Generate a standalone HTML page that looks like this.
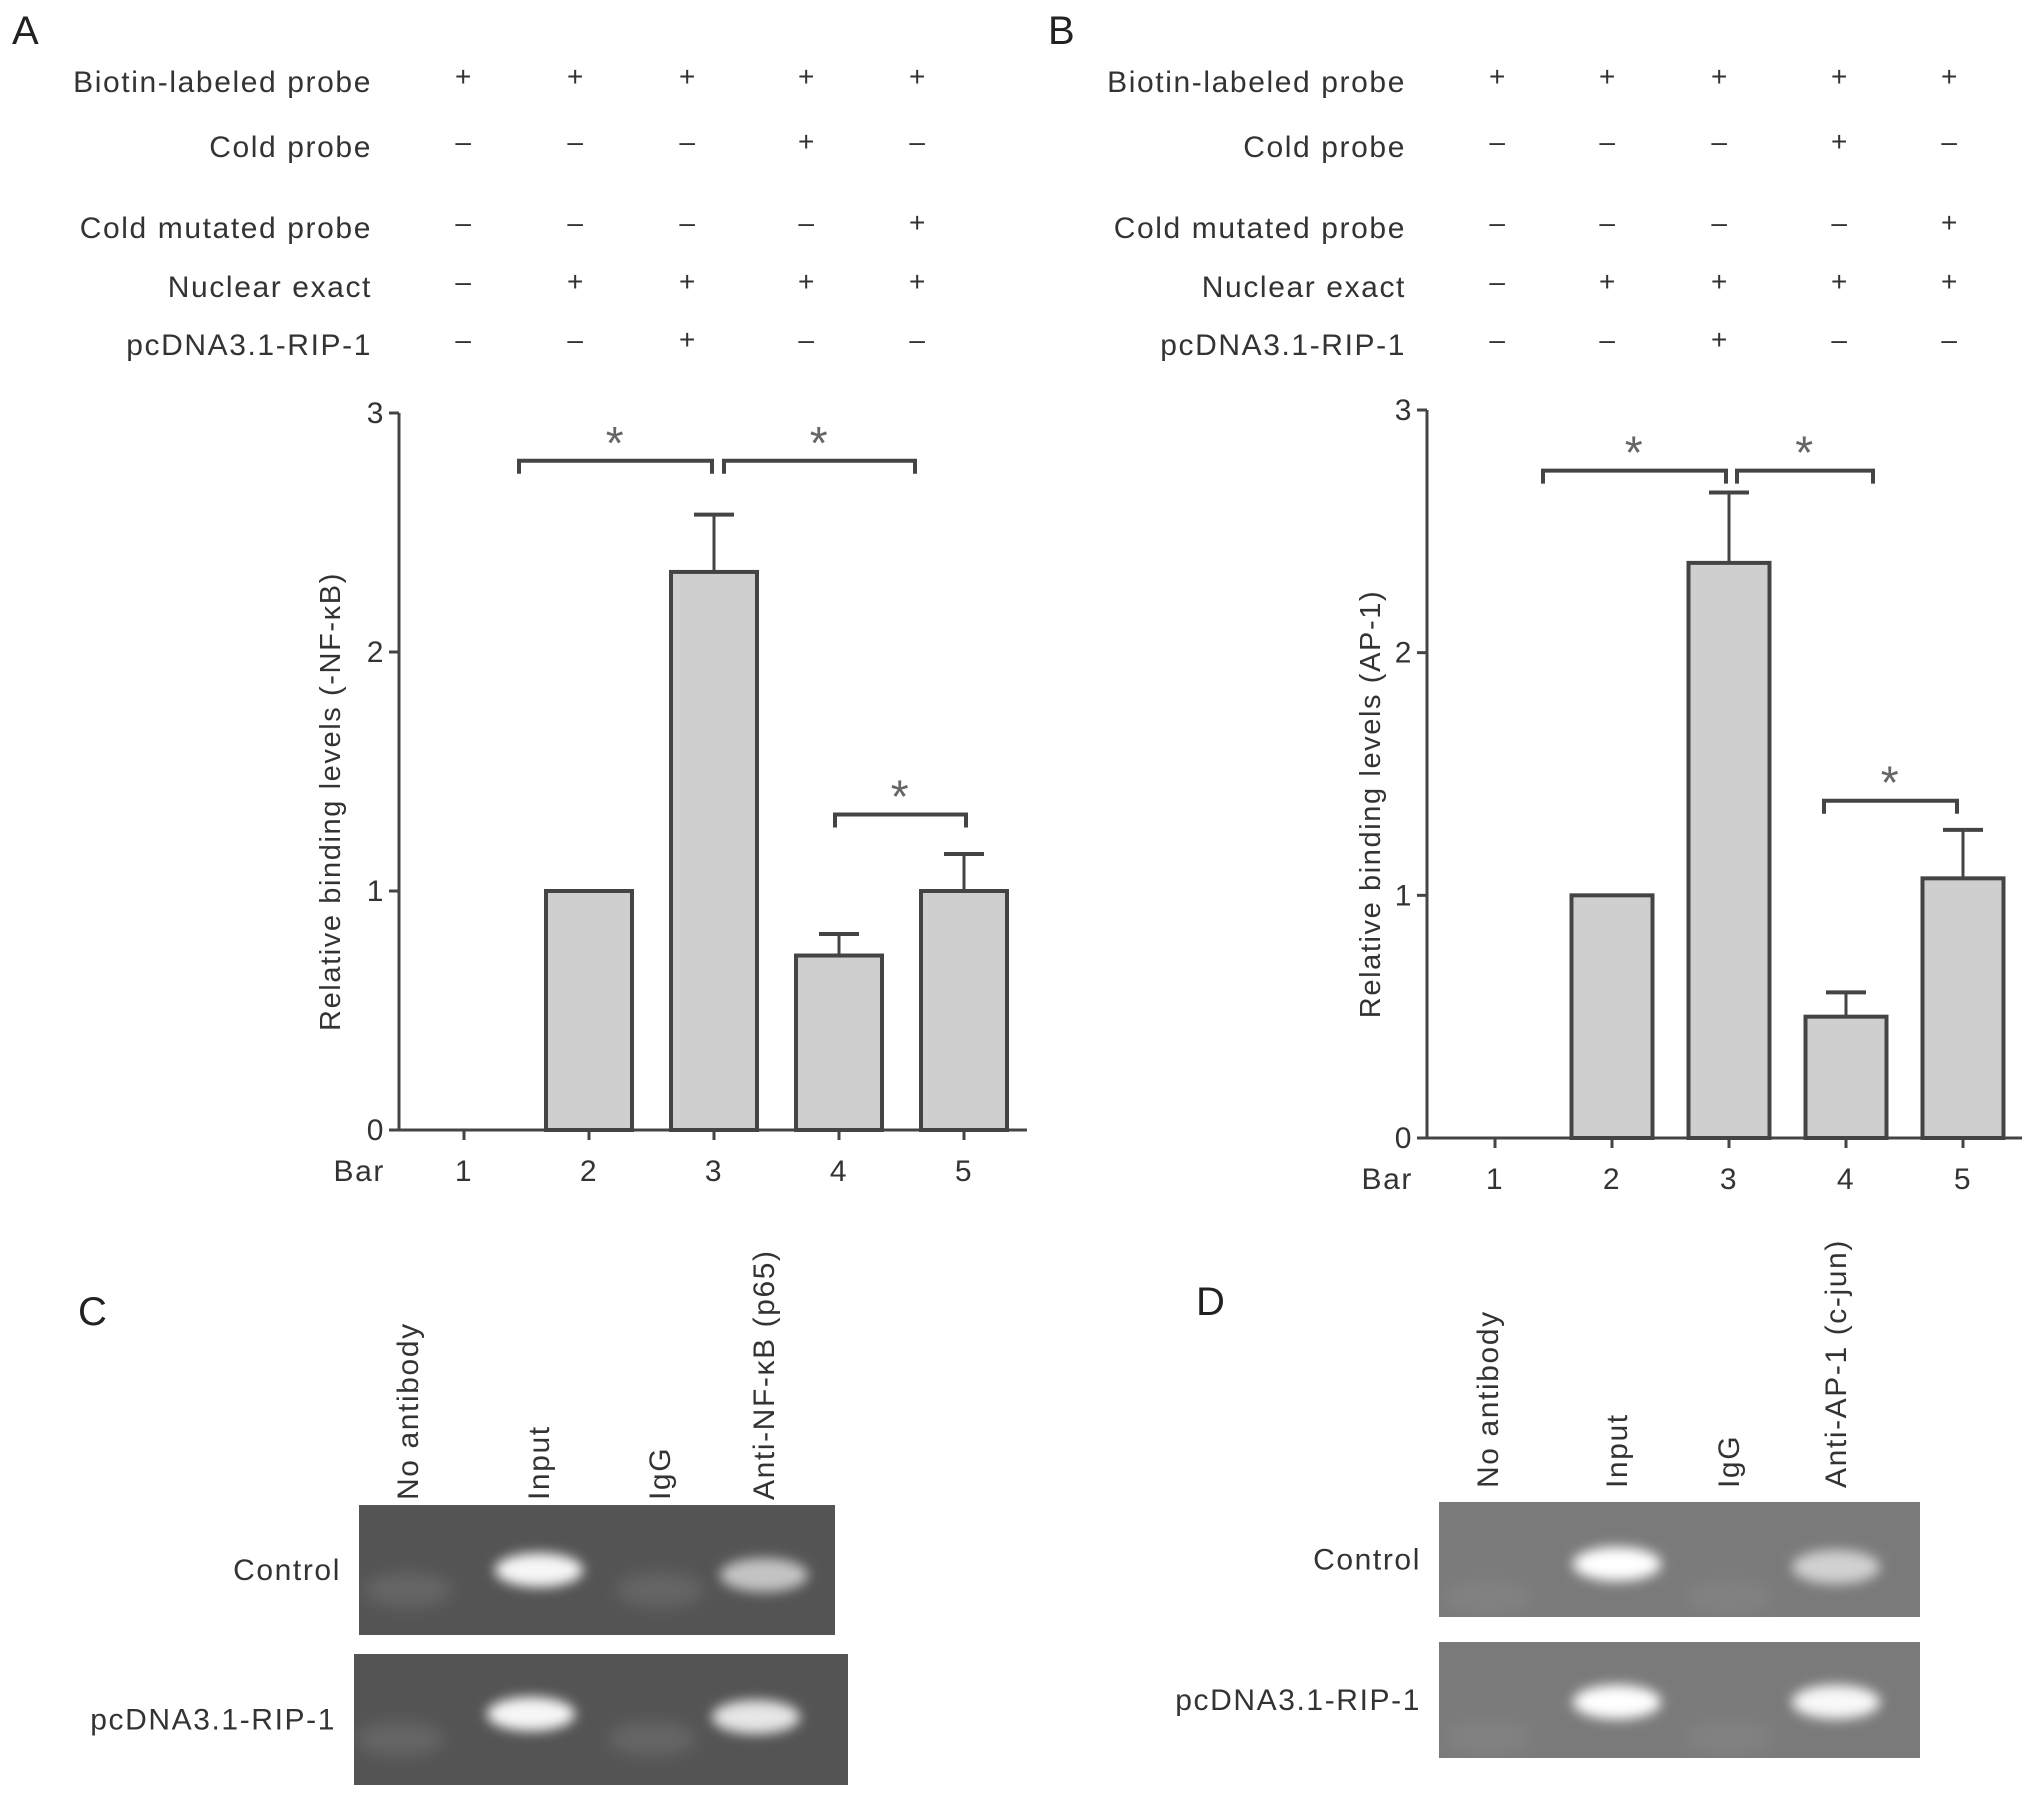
<!DOCTYPE html>
<html><head><meta charset="utf-8">
<style>
html,body{margin:0;padding:0;background:#fff;}
svg{display:block;font-family:"Liberation Sans",sans-serif;}
svg text{letter-spacing:1.6px;}
</style></head>
<body>
<svg id="fig" width="2032" height="1796" viewBox="0 0 2032 1796" xmlns="http://www.w3.org/2000/svg">
<defs>
<filter id="blur" x="-50%" y="-50%" width="200%" height="200%"><feGaussianBlur stdDeviation="8"/></filter>
<filter id="blur2" x="-50%" y="-50%" width="200%" height="200%"><feGaussianBlur stdDeviation="6"/></filter>
</defs>
<g id="root"></g>
</svg>
<script>
const categories = ["1","2","3","4","5"];
const valuesA = [0, 1.0, 2.335, 0.73, 1.0];
const errorsA = [0, 0, 0.24, 0.09, 0.155];
const valuesB = [0, 1.0, 2.37, 0.5, 1.07];
const errorsB = [0, 0, 0.29, 0.1, 0.2];
const yTicks = [0, 1, 2, 3];
const rowLabels = ["Biotin-labeled probe","Cold probe","Cold mutated probe","Nuclear exact","pcDNA3.1-RIP-1"];
const rowSigns = [["+","+","+","+","+"],["–","–","–","+","–"],["–","–","–","–","+"],["–","+","+","+","+"],["–","–","+","–","–"]];
const laneLabelsC = ["No antibody","Input","IgG","Anti-NF-κB (p65)"];
const laneLabelsD = ["No antibody","Input","IgG","Anti-AP-1 (c-jun)"];

const NS = "http://www.w3.org/2000/svg";
const root = document.getElementById("root");
function mk(tag, attrs, parent, text){
  const e = document.createElementNS(NS, tag);
  for (const k in attrs) e.setAttribute(k, attrs[k]);
  if (text !== undefined) e.textContent = text;
  (parent || root).appendChild(e);
  return e;
}
const TXT = "#333";

function panel(cfg){
  const g = mk("g", {});
  
  
  const L = mk("text", {x: cfg.letterX, y: 44, "font-size": 40, fill: "#222"}, g, cfg.letter);
  
  
  const rowY = [92, 157, 238, 297, 355];
  rowLabels.forEach((lab, r) => {
    const t = mk("text", {x: cfg.labelRight, y: rowY[r], "font-size": 30, fill: TXT, "text-anchor": "end"}, g, lab);
    
    
    rowSigns[r].forEach((s, c) => {
      const st = mk("text", {x: cfg.colX[c], y: rowY[r] - 6, "font-size": 28, fill: TXT, "text-anchor": "middle"}, g, s);
      
      
    });
  });
  const y0 = cfg.y0, y3 = cfg.y3;
  const ys = v => y0 - (y0 - y3) * v / 3;
  const xs = i => cfg.x1 + i * cfg.step;
  const ax = mk("line", {x1: cfg.axisX, y1: y3, x2: cfg.axisX, y2: y0, stroke: "#444", "stroke-width": 3}, g);
  
  
  const xa = mk("line", {x1: cfg.axisX - 10, y1: y0, x2: cfg.axisEnd, y2: y0, stroke: "#444", "stroke-width": 3}, g);
  
  
  yTicks.forEach(v => {
    mk("line", {x1: cfg.axisX - 10, y1: ys(v), x2: cfg.axisX, y2: ys(v), stroke: "#444", "stroke-width": 3}, g);
    const t = mk("text", {x: cfg.axisX - 14, y: ys(v) + 10, "font-size": 30, fill: TXT, "text-anchor": "end"}, g, v);
    
    
  });
  const yt = mk("text", {x: 0, y: 0, "font-size": 29, fill: TXT, "text-anchor": "middle",
    transform: `translate(${cfg.titleX},${(y0 + y3) / 2 + 30}) rotate(-90)`}, g, cfg.yTitle);
  
  
  const bl = mk("text", {x: cfg.axisX - 14, y: y0 + 51, "font-size": 30, fill: TXT, "text-anchor": "end"}, g, "Bar");
  
  
  categories.forEach((c, i) => {
    mk("line", {x1: xs(i), y1: y0, x2: xs(i), y2: y0 + 10, stroke: "#444", "stroke-width": 3}, g);
    const t = mk("text", {x: xs(i), y: y0 + 51, "font-size": 30, fill: TXT, "text-anchor": "middle"}, g, c);
    
    
    const v = cfg.values[i], e = cfg.errors[i];
    if (v > 0) {
      if (e > 0) {
        mk("line", {x1: xs(i), y1: ys(v), x2: xs(i), y2: ys(v + e), stroke: "#444", "stroke-width": 3}, g);
        mk("line", {x1: xs(i) - 20, y1: ys(v + e), x2: xs(i) + 20, y2: ys(v + e), stroke: "#444", "stroke-width": 4}, g);
      }
      const b = mk("rect", {x: xs(i) - cfg.bw / 2, y: ys(v), width: cfg.bw, height: y0 - ys(v), fill: "#cfcfcf", stroke: "#444", "stroke-width": 4}, g);
      
      
    }
  });
  cfg.brackets.forEach(br => {
    const xa1 = br[0], xb = br[1], yy = ys(br[2]);
    const p = mk("path", {d: `M${xa1} ${yy + 13} V${yy} H${xb} V${yy + 13}`, fill: "none", stroke: "#444", "stroke-width": 4}, g);
    
    
    const s = mk("text", {x: (xa1 + xb) / 2, y: yy - 2, "font-size": 46, fill: "#666", "text-anchor": "middle"}, g, "*");
    
    
  });
}

panel({name: "panel-a", letter: "A", letterX: 12, labelRight: 372, colX: [464, 576, 688, 807, 918],
  axisX: 399, axisEnd: 1027, y0: 1130, y3: 413, x1: 464, step: 125, bw: 86, titleX: 340,
  yTitle: "Relative binding levels (-NF-κB)", values: valuesA, errors: errorsA,
  brackets: [[519, 712, 2.8], [724, 915, 2.8], [835, 966, 1.32]]});
panel({name: "panel-b", letter: "B", letterX: 1048, labelRight: 1406, colX: [1498, 1608, 1720, 1840, 1950],
  axisX: 1427, axisEnd: 2022, y0: 1138, y3: 410, x1: 1495, step: 117, bw: 81, titleX: 1380,
  yTitle: "Relative binding levels (AP-1)", values: valuesB, errors: errorsB,
  brackets: [[1543, 1726, 2.75], [1737, 1873, 2.75], [1824, 1957, 1.39]]});

function gel(cfg){
  const g = mk("g", {});
  
  
  const L = mk("text", {x: cfg.letterX, y: cfg.letterY, "font-size": 40, fill: "#222"}, g, cfg.letter);
  
  
  cfg.lanes.forEach((lab, i) => {
    const t = mk("text", {x: 0, y: 0, "font-size": 30, fill: TXT, transform: `translate(${cfg.laneX[i] + 10},${cfg.labelBottom}) rotate(-90)`}, g, lab);
    
    
  });
  cfg.rows.forEach(row => {
    const r = mk("rect", {x: row.x, y: row.y, width: row.w, height: row.h, fill: cfg.bg}, g);
    
    
    const t = mk("text", {x: row.x - 18, y: row.y + row.h / 2 + 10, "font-size": 30, fill: TXT, "text-anchor": "end"}, g, row.label);
    
    
    row.bands.forEach((bd, i) => {
      if (bd[1] <= 0) return;
      const e = mk("ellipse", {cx: cfg.laneX[i] + (row.dx || 0), cy: row.y + bd[0], rx: 44, ry: 17, fill: "#fff", "fill-opacity": bd[1], filter: bd[1] > 0.4 ? "url(#blur2)" : "url(#blur)"}, g);
      
      
    });
  });
}
gel({name: "panel-c", letter: "C", letterX: 78, letterY: 1325, bg: "#545454", labelBottom: 1500,
  lanes: laneLabelsC, laneX: [408, 539, 660, 764],
  rows: [
    {label: "Control", x: 359, y: 1505, w: 476, h: 130, bands: [[85, 0.1], [65, 0.95], [85, 0.1], [70, 0.65]]},
    {label: "pcDNA3.1-RIP-1", x: 354, y: 1654, w: 494, h: 131, dx: -8, bands: [[85, 0.1], [60, 0.95], [85, 0.1], [63, 0.85]]}
  ]});
gel({name: "panel-d", letter: "D", letterX: 1196, letterY: 1315, bg: "#7a7a7a", labelBottom: 1488,
  lanes: laneLabelsD, laneX: [1488, 1617, 1729, 1836],
  rows: [
    {label: "Control", x: 1439, y: 1502, w: 481, h: 115, bands: [[95, 0.06], [62, 1.0], [95, 0.06], [65, 0.65]]},
    {label: "pcDNA3.1-RIP-1", x: 1439, y: 1642, w: 481, h: 116, bands: [[95, 0.06], [60, 1.0], [95, 0.06], [60, 0.95]]}
  ]});
</script>
</body></html>
